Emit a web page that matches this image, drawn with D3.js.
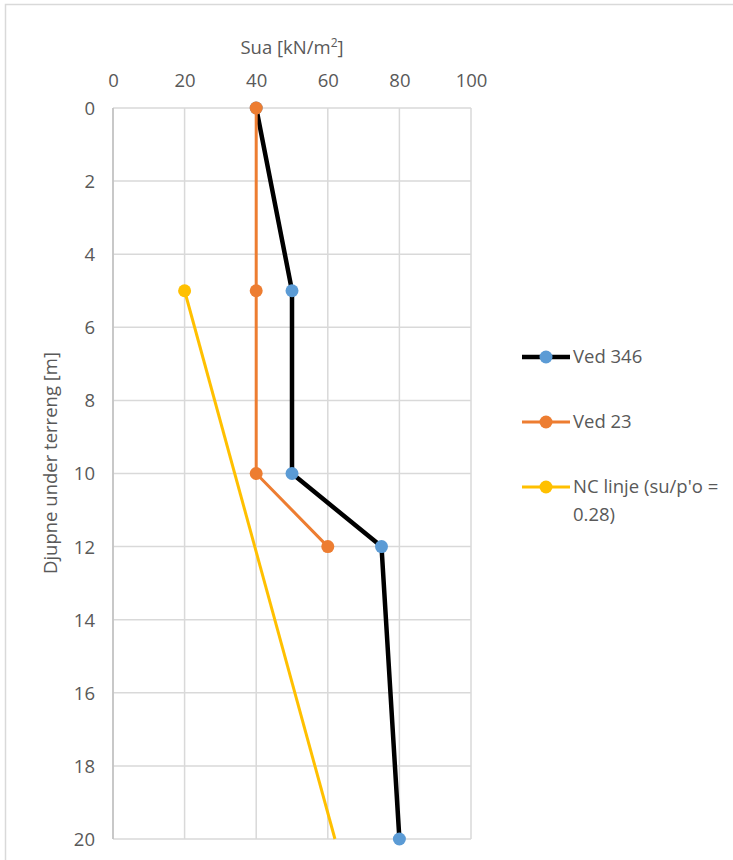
<!DOCTYPE html>
<html><head><meta charset="utf-8">
<script src="https://cdn.jsdelivr.net/npm/d3@7"></script>
<style>body{margin:0;background:#fff}svg{display:block}text{font-family:"Open Sans",sans-serif;fill:#595959}</style>
</head><body><div id="chart"></div>
<script>
const xTicks = [0,20,40,60,80,100];
const yTicks = [0,2,4,6,8,10,12,14,16,18,20];
const ved346Depth = [0,5,10,12,20];
const ved346Su = [40,50,50,75,80];
const ved23Depth = [0,5,10,12];
const ved23Su = [40,40,40,60];
const ncDepth = [5,20];
const ncSu = [20,62];
const ncMarkers = [true,false];
const seriesNames = ["Ved 346","Ved 23","NC linje (su/p'o = 0.28)"];

const W=733,H=860,FS="18.5px";
const svg=d3.select("#chart").append("svg").attr("width",W).attr("height",H);
svg.append("rect").attr("x",5.5).attr("y",4.5).attr("width",800).attr("height",900).attr("fill","#fff").attr("stroke","#D9D9D9").attr("stroke-width",1.5);

const x=d3.scaleLinear().domain([0,100]).range([113,471]);
const y=d3.scaleLinear().domain([0,20]).range([108,839]);

svg.append("g").selectAll("line.v").data(xTicks).join("line")
  .attr("x1",d=>x(d)).attr("x2",d=>x(d)).attr("y1",y(0)).attr("y2",y(20))
  .attr("stroke","#D9D9D9").attr("stroke-width",1.5);
svg.append("g").selectAll("line.h").data(yTicks).join("line")
  .attr("x1",x(0)).attr("x2",x(100)).attr("y1",d=>y(d)).attr("y2",d=>y(d))
  .attr("stroke","#D9D9D9").attr("stroke-width",1.5);
svg.append("line").attr("x1",x(0)).attr("x2",x(0)).attr("y1",y(0)).attr("y2",y(20))
  .attr("stroke","#BFBFBF").attr("stroke-width",1.5);

const xa=d3.axisTop(x).tickValues(xTicks).tickSize(0).tickPadding(0);
const gx=svg.append("g").attr("transform","translate(0,87)").call(xa);
gx.select(".domain").remove();
gx.selectAll("text").attr("font-size",FS).attr("fill","#595959").attr("font-family","Open Sans").attr("dy","0");
const ya=d3.axisLeft(y).tickValues(yTicks).tickSize(0).tickPadding(0);
const gy=svg.append("g").attr("transform","translate(95,0)").call(ya);
gy.select(".domain").remove();
gy.selectAll("text").attr("font-size",FS).attr("fill","#595959").attr("font-family","Open Sans").attr("dy","0.35em");

const t=svg.append("text").attr("x",292).attr("y",54).attr("text-anchor","middle").attr("font-size",FS);
t.append("tspan").text("Sua [kN/m");
t.append("tspan").text("2").attr("font-size","12px").attr("dy","-7");
t.append("tspan").text("]").attr("dy","7");
svg.append("text").attr("transform","translate(57,463) rotate(-90)").attr("text-anchor","middle")
  .attr("font-size",FS).text("Djupne under terreng [m]");

const line=d3.line().x(d=>x(d.su)).y(d=>y(d.z));
const series=[
  {depth:ved346Depth,su:ved346Su,line:"#000",lw:4.5,mk:"#5B9BD5",markers:ved346Depth.map(()=>true)},
  {depth:ved23Depth,su:ved23Su,line:"#ED7D31",lw:3,mk:"#ED7D31",markers:ved23Depth.map(()=>true)},
  {depth:ncDepth,su:ncSu,line:"#FFC000",lw:3,mk:"#FFC000",markers:ncMarkers}
];
series.forEach(s=>{
  const pts=s.depth.map((z,i)=>({z,su:s.su[i],m:s.markers[i]}));
  svg.append("path").datum(pts).attr("d",line).attr("fill","none").attr("stroke",s.line)
    .attr("stroke-width",s.lw).attr("stroke-linejoin","round");
  svg.append("g").selectAll("circle").data(pts.filter(p=>p.m)).join("circle")
    .attr("cx",d=>x(d.su)).attr("cy",d=>y(d.z)).attr("r",6.5).attr("fill",s.mk);
});

const ly=[357,422,487];
series.forEach((s,i)=>{
  const g=svg.append("g");
  g.append("line").attr("x1",522).attr("x2",570).attr("y1",ly[i]).attr("y2",ly[i]).attr("stroke",s.line).attr("stroke-width",s.lw);
  g.append("circle").attr("cx",546).attr("cy",ly[i]).attr("r",6.5).attr("fill",s.mk);
});
svg.append("text").attr("x",573).attr("y",ly[0]).attr("dy","0.35em").attr("font-size",FS).text(seriesNames[0]);
svg.append("text").attr("x",573).attr("y",ly[1]).attr("dy","0.35em").attr("font-size",FS).text(seriesNames[1]);
const nt=svg.append("text").attr("x",573).attr("y",ly[2]).attr("dy","0.35em").attr("font-size",FS);
nt.append("tspan").attr("x",573).text("NC linje (su/p'o =");
nt.append("tspan").attr("x",573).attr("dy","1.5em").text("0.28)");
</script></body></html>
